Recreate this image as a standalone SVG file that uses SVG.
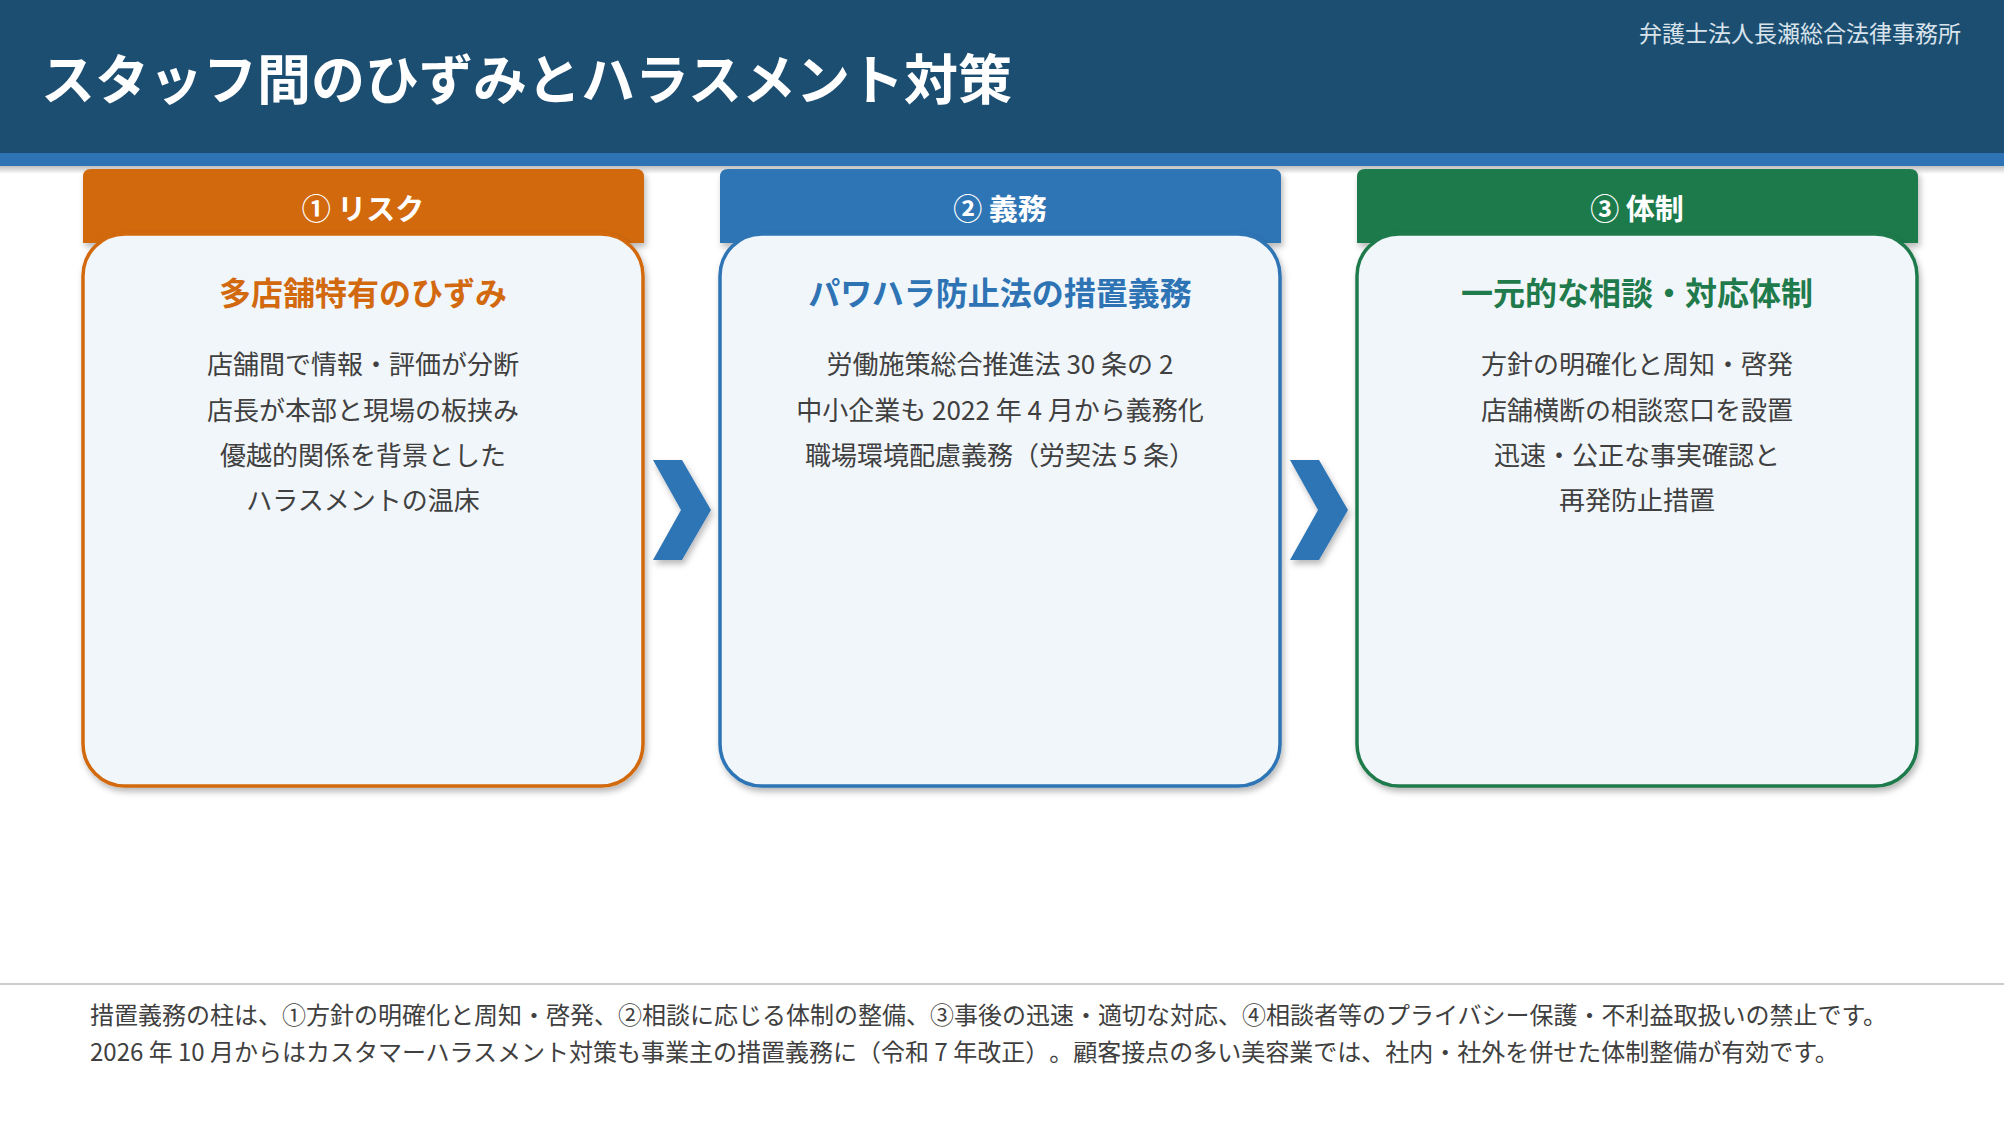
<svg xmlns="http://www.w3.org/2000/svg" width="2004" height="1125" viewBox="0 0 2004 1125">
<defs>
<style>
.jp{font-family:"Noto Sans CJK JP","Noto Sans",sans-serif;text-spacing-trim:space-all}
.title{font-size:54px;font-weight:700;fill:#ffffff}
.firm{font-size:23px;fill:#d9e3ec;text-anchor:end}
.tabl{font-size:29px;font-weight:700;fill:#ffffff;text-anchor:middle}
.ctitle{font-size:32px;font-weight:700;text-anchor:middle}
.body{font-size:26px;fill:#404040;text-anchor:middle}
.foot{font-size:24px;fill:#404040}
.card{fill:#f1f6fa;stroke-width:3.5}
</style>
<filter id="sh" x="-10%" y="-10%" width="125%" height="125%">
<feDropShadow dx="2" dy="4" stdDeviation="3" flood-color="#000" flood-opacity="0.28"/>
</filter>
<linearGradient id="hs" x1="0" y1="0" x2="0" y2="1">
<stop offset="0" stop-color="#000" stop-opacity="0.25"/>
<stop offset="1" stop-color="#000" stop-opacity="0"/>
</linearGradient>
</defs>
<rect width="2004" height="1125" fill="#ffffff"/>
<g id="header">
<rect x="0" y="166" width="2004" height="8" fill="url(#hs)"/>
<rect x="0" y="0" width="2004" height="153" fill="#1c4e71"/>
<rect x="0" y="153" width="2004" height="13" fill="#2e74b5"/>
<text class="jp title" x="41" y="100">スタッフ間のひずみとハラスメント対策</text>
<text class="jp firm" x="1961" y="42">弁護士法人長瀬総合法律事務所</text>
</g>
<g id="node-risk">
<path d="M83,243 V177 Q83,169 91,169 H636 Q644,169 644,177 V243 Z" fill="#d2690f" filter="url(#sh)"/>
<text class="jp tabl" x="363" y="220">① リスク</text>
<rect class="card" x="83" y="234" width="560" height="552" rx="42" stroke="#d2690f" filter="url(#sh)"/>
<text class="jp ctitle" x="363" y="305" fill="#d2690f">多店舗特有のひずみ</text>
<text class="jp body" x="363" y="374">店舗間で情報・評価が分断</text>
<text class="jp body" x="363" y="420">店長が本部と現場の板挟み</text>
<text class="jp body" x="363" y="465">優越的関係を背景とした</text>
<text class="jp body" x="363" y="510">ハラスメントの温床</text>
</g>
<g id="node-duty">
<path d="M720,243 V177 Q720,169 728,169 H1273 Q1281,169 1281,177 V243 Z" fill="#2e74b5" filter="url(#sh)"/>
<text class="jp tabl" x="1000" y="220">② 義務</text>
<rect class="card" x="720" y="234" width="560" height="552" rx="42" stroke="#2e74b5" filter="url(#sh)"/>
<text class="jp ctitle" x="1000" y="305" fill="#2e74b5">パワハラ防止法の措置義務</text>
<text class="jp body" x="1000" y="374">労働施策総合推進法 30 条の 2</text>
<text class="jp body" x="1000" y="420">中小企業も 2022 年 4 月から義務化</text>
<text class="jp body" x="1000" y="465">職場環境配慮義務（労契法 5 条）</text>
</g>
<g id="node-system">
<path d="M1357,243 V177 Q1357,169 1365,169 H1910 Q1918,169 1918,177 V243 Z" fill="#1f7a4c" filter="url(#sh)"/>
<text class="jp tabl" x="1637" y="220">③ 体制</text>
<rect class="card" x="1357" y="234" width="560" height="552" rx="42" stroke="#1f7a4c" filter="url(#sh)"/>
<text class="jp ctitle" x="1637" y="305" fill="#1f7a4c">一元的な相談・対応体制</text>
<text class="jp body" x="1637" y="374">方針の明確化と周知・啓発</text>
<text class="jp body" x="1637" y="420">店舗横断の相談窓口を設置</text>
<text class="jp body" x="1637" y="465">迅速・公正な事実確認と</text>
<text class="jp body" x="1637" y="510">再発防止措置</text>
</g>
<g id="connectors" fill="#2e74b5" filter="url(#sh)">
<polygon points="653,460 682,460 711,510 682,560 653,560 681,510"/>
<polygon points="1290,460 1319,460 1348,510 1319,560 1290,560 1318,510"/>
</g>
<g id="footer">
<rect x="0" y="983" width="2004" height="2" fill="#cccccc"/>
<text class="jp foot" x="90" y="1024">措置義務の柱は、①方針の明確化と周知・啓発、②相談に応じる体制の整備、③事後の迅速・適切な対応、④相談者等のプライバシー保護・不利益取扱いの禁止です。</text>
<text class="jp foot" x="90" y="1061">2026 年 10 月からはカスタマーハラスメント対策も事業主の措置義務に（令和 7 年改正）。顧客接点の多い美容業では、社内・社外を併せた体制整備が有効です。</text>
</g>
</svg>
